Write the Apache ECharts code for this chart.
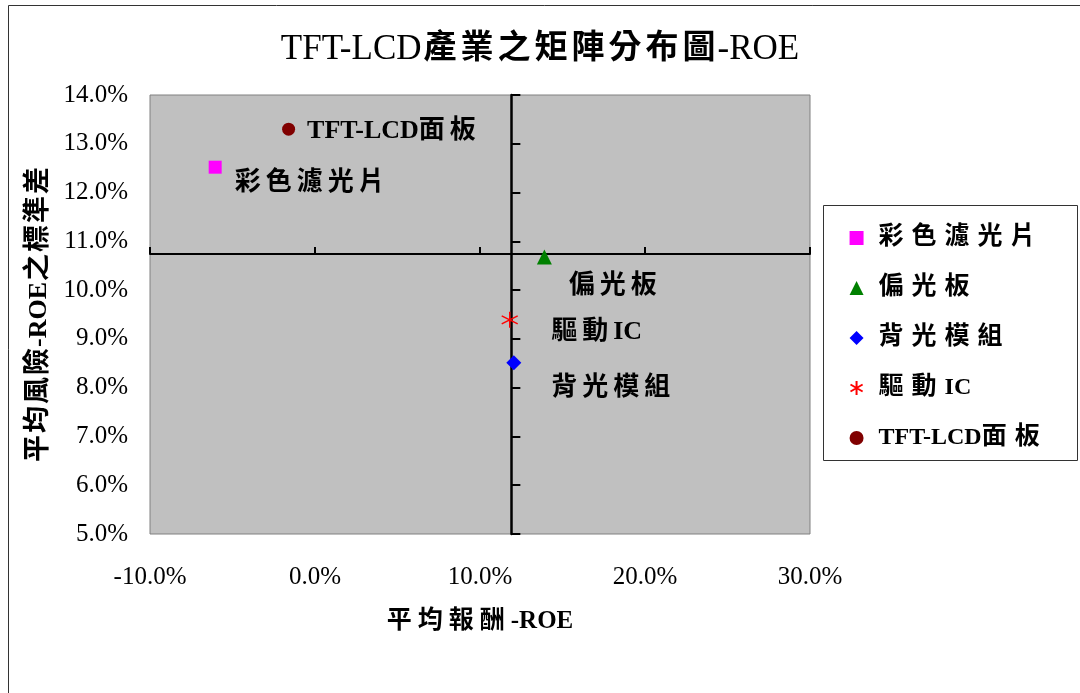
<!DOCTYPE html>
<html>
<head>
<meta charset="utf-8">
<script src="https://cdn.jsdelivr.net/npm/echarts@6/dist/echarts.min.js"></script>
<style>
  html, body { margin: 0; padding: 0; background: #fff; }
  #chart { width: 1080px; height: 693px; }
</style>
</head>
<body>
<div id="chart"></div>
<script>
// Industry segments and their average ROE return / ROE standard deviation (%)
const segments = ['彩色濾光片', '偏光板', '背光模組', '驅動IC', 'TFT-LCD面板'];
const avgReturn = [-6.05, 13.9, 12.05, 11.8, -1.6];
const avgRisk   = [12.52, 10.68, 8.51, 9.39, 13.30];

// Where the two quadrant axes cross: [return %, risk %]
const crossAt = [11.9, 10.74];

// Axis ranges and tick steps
const xRange = [-10, 30, 10];
const yRange = [5, 14, 1];

const titleText = 'TFT-LCD產業之矩陣分布圖-ROE';
const xName = '平均報酬-ROE';
const yName = '平均風險-ROE之標準差';

const markerStyles = [
  { symbol: 'rect', size: 13, color: '#FF00FF' },
  { symbol: 'triangle', size: 15, color: '#008000' },
  { symbol: 'diamond', size: 15, color: '#0000FF' },
  { symbol: 'path://M5,0L5,10M0.67,2.5L9.33,7.5M0.67,7.5L9.33,2.5', size: 16, color: 'none', stroke: '#FF0000' },
  { symbol: 'circle', size: 13, color: '#800000' }
];
const labelOffsets = [[13, 16], [17, 29], [30, 25], [31, 12], [12, 2]];

const serif = "'Liberation Serif', 'Noto Sans CJK TC', serif";
const pct = v => v.toFixed(1) + '%';

// Wrap each CJK character in its own fixed-width rich box (wide Ming-style spacing),
// keeping runs of Latin text together.
function spaced(text) {
  return text.replace(/[\u0000-\u024F]+|[^\u0000-\u024F]/g, part =>
    /^[\u0000-\u024F]+$/.test(part) ? '{lat|' + part + '}' : '{cjk|' + part + '}');
}
function richOf(cjkWidth, size, latWeight, latSize, cjkAlign) {
  return {
    cjk: { width: cjkWidth, align: cjkAlign || 'left', fontFamily: serif, fontWeight: 'bold', fontSize: size, color: '#000' },
    lat: { fontFamily: serif, fontWeight: latWeight, fontSize: latSize || size, color: '#000' }
  };
}

const series = segments.map((name, i) => {
  const m = markerStyles[i];
  return {
    name,
    type: 'scatter',
    xAxisIndex: 0,
    yAxisIndex: 0,
    symbol: m.symbol,
    symbolSize: m.size,
    itemStyle: m.stroke
      ? { color: m.color, borderColor: m.stroke, borderWidth: 1.4, opacity: 1 }
      : { color: m.color, borderWidth: 0, opacity: 1 },
    label: {
      show: true,
      formatter: spaced(name),
      position: 'right',
      distance: 0,
      offset: labelOffsets[i],
      opacity: 1,
      rich: richOf(31, 26, 'bold', 26)
    },
    emphasis: { disabled: true },
    data: [[avgReturn[i], avgRisk[i]]],
    z: 5
  };
});

const chart = echarts.init(document.getElementById('chart'), null, { renderer: 'canvas' });
chart.setOption({
  backgroundColor: '#fff',
  animation: false,
  title: {
    text: spaced(titleText),
    left: 'center',
    top: 27,
    textStyle: { fontFamily: serif, fontSize: 35, color: '#000', rich: richOf(37, 33, 'normal', 35) }
  },
  graphic: [
    { type: 'rect', shape: { x: 8.5, y: 5.5, width: 1100, height: 720 },
      style: { fill: 'none', stroke: '#333', lineWidth: 1 }, z: -10, silent: true },
    { type: 'rect', shape: { x: 823.5, y: 205.5, width: 254, height: 255 },
      style: { fill: '#fff', stroke: '#333', lineWidth: 1 }, z: 0, silent: true }
  ],
  legend: {
    orient: 'vertical',
    left: 848,
    top: 225,
    padding: 0,
    itemWidth: 14,
    itemHeight: 14,
    itemGap: 24,
    selectedMode: false,
    formatter: name => spaced(name),
    textStyle: { fontSize: 25, lineHeight: 26, padding: [0, 0, 0, 10], rich: richOf(33, 25, 'bold', 24) },
    data: segments,
    z: 3
  },
  grid: {
    left: 150, top: 95, width: 660, height: 439,
    show: true, backgroundColor: '#C0C0C0', borderColor: '#808080', borderWidth: 1
  },
  xAxis: [
    {
      type: 'value', min: xRange[0], max: xRange[1], interval: xRange[2],
      position: 'bottom',
      axisLine: { show: false, onZero: false }, axisTick: { show: false }, splitLine: { show: false },
      axisLabel: { formatter: pct, margin: 31, color: '#000', fontFamily: serif, fontSize: 25 },
      name: spaced(xName), nameLocation: 'middle', nameGap: 75,
      nameTextStyle: { fontSize: 25, rich: richOf(31, 25, 'bold', 25) }
    },
    {
      type: 'value', min: xRange[0], max: xRange[1], interval: xRange[2],
      position: 'bottom',
      axisLine: { show: true, onZero: true, onZeroAxisIndex: 1, lineStyle: { color: '#000', width: 2 } },
      axisTick: { show: true, inside: true, length: 7, lineStyle: { color: '#000', width: 2 } },
      axisLabel: { show: false }, splitLine: { show: false }
    },
    {
      type: 'value', min: xRange[0] - crossAt[0], max: xRange[1] - crossAt[0],
      show: false, splitLine: { show: false }
    }
  ],
  yAxis: [
    {
      type: 'value', min: yRange[0], max: yRange[1], interval: yRange[2],
      position: 'left',
      axisLine: { show: false, onZero: false }, axisTick: { show: false }, splitLine: { show: false },
      axisLabel: { formatter: pct, margin: 22, color: '#000', fontFamily: serif, fontSize: 25 },
      name: spaced(yName), nameLocation: 'middle', nameRotate: 90, nameGap: 90,
      nameTextStyle: { fontSize: 26, rich: richOf(29, 27, 'bold', 26, 'center') }
    },
    {
      type: 'value', min: yRange[0] - crossAt[1], max: yRange[1] - crossAt[1],
      show: false, splitLine: { show: false }
    },
    {
      type: 'value', min: yRange[0], max: yRange[1], interval: yRange[2],
      position: 'left',
      axisLine: { show: true, onZero: true, onZeroAxisIndex: 2, lineStyle: { color: '#000', width: 2.5 } },
      axisTick: { show: true, inside: true, length: 9, lineStyle: { color: '#000', width: 2 } },
      axisLabel: { show: false }, splitLine: { show: false }
    }
  ],
  series
});
</script>
</body>
</html>
